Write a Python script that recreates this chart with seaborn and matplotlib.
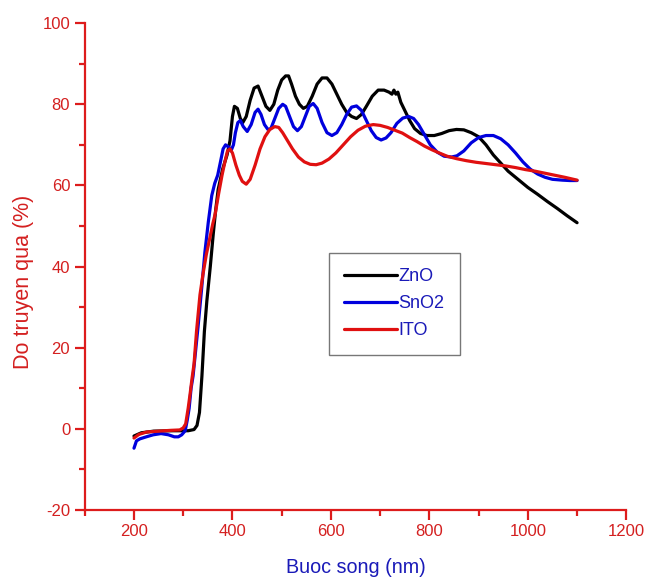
import numpy as np
import pandas as pd
import matplotlib
matplotlib.use("Agg")
import matplotlib.pyplot as plt
import seaborn as sns
from matplotlib.ticker import MultipleLocator
from matplotlib.lines import Line2D

# ---- data ----
zno_x = [200, 215, 240, 280, 310, 322, 328, 333, 338, 343, 348, 355, 361, 366, 371, 380, 389, 395, 400, 404,
         410, 416, 421, 428, 436, 444, 452, 460, 468, 476, 484, 492, 500, 508, 514, 520, 528, 536, 544, 552,
         562, 572, 582, 592, 602, 612, 622, 632, 642, 652, 662, 672, 684, 696, 708, 718, 724, 728, 732, 736,
         742, 750, 760, 770, 782, 795, 810, 825, 840, 855, 870, 885, 900, 915, 930, 945, 960, 980, 1000, 1020,
         1040, 1060, 1080, 1100]
zno_y = [-1.8, -1.0, -0.6, -0.5, -0.5, -0.2, 0.8, 4, 13, 24, 31.5, 40, 48, 54, 59, 64, 67.5, 71, 77, 79.5,
         79, 76.5, 75.5, 77, 81, 84, 84.5, 82, 79.5, 78.5, 80, 83.5, 86, 87, 87, 85, 82, 80, 79, 79.5,
         82, 85, 86.5, 86.5, 85, 82.5, 80, 78, 77, 76.5, 77.5, 79.5, 82, 83.5, 83.5, 83, 82.5, 83.5, 82.5, 83,
         80.5, 78.5, 76, 74, 72.8, 72.3, 72.3, 72.8, 73.5, 73.8, 73.7, 73, 72, 70, 67.5, 65.5, 63.5, 61.5, 59.5, 57.8,
         56, 54.3, 52.5, 50.8]

sno2_x = [200, 205, 212, 225, 239, 255, 270, 282, 290, 297, 304, 308, 312, 316, 320, 325, 330, 337, 344, 351,
          358, 364, 370, 376, 381, 386, 392, 397, 402, 406, 411, 416, 422, 430, 438, 446, 452, 458, 465, 472,
          478, 486, 494, 502, 508, 516, 524, 532, 540, 548, 556, 564, 572, 582, 592, 602, 612, 622, 632, 642,
          652, 662, 672, 682, 692, 702, 712, 722, 734, 746, 758, 768, 778, 790, 802, 816, 830, 845, 856, 870,
          885, 900, 915, 930, 945, 960, 975, 990, 1005, 1020, 1035, 1050, 1070, 1085, 1100]
sno2_y = [-4.8, -3, -2.5, -2, -1.5, -1.2, -1.5, -2.0, -2.0, -1.5, -0.5, 2, 5, 10, 13, 19, 25, 34, 43.5, 51,
          57.5, 60.5, 62.5, 66, 69, 70, 69.5, 68.5, 70, 73, 75.5, 76, 74.5, 73.3, 75, 78, 78.8, 77.5, 75, 73.8,
          74, 76.5, 79, 80, 79.5, 77, 74.5, 73.5, 74.5, 77, 79.5, 80.2, 79, 75.5, 73, 72.3, 73, 75, 77.5, 79.3,
          79.6, 78.5, 76, 73.5, 71.8, 71.2, 71.7, 73, 75.3, 76.6, 77, 76.5, 75, 72.5, 70, 68.2, 67.2, 67, 67.3, 68.5,
          70.5, 71.8, 72.3, 72.3, 71.5, 70, 68, 65.8, 64, 62.8, 62, 61.5, 61.3, 61.2, 61.2]

ito_x = [200, 210, 226, 250, 275, 293, 300, 305, 310, 314, 318, 322, 327, 334, 340, 347, 354, 360, 365, 372,
         379, 385, 390, 395, 400, 407, 414, 420, 428, 436, 446, 456, 466, 476, 486, 494, 502, 512, 522, 534,
         546, 558, 570, 582, 596, 610, 625, 640, 655, 670, 686, 700, 715, 730, 745, 760, 775, 790, 805, 820,
         836, 855, 875, 895, 915, 935, 955, 975, 995, 1015, 1035, 1055, 1075, 1100]
ito_y = [-2.3, -1.4, -0.8, -0.6, -0.4, -0.3, 0.2, 1.2, 5, 8.6, 12.5, 16, 24, 33, 38, 43, 47, 50.5, 53, 58,
         62.6, 66, 68.5, 69, 68, 65, 62.5, 61, 60.3, 61.5, 65, 69, 72, 73.8, 74.5, 74.3, 73, 71, 69, 67,
         65.8, 65.2, 65.1, 65.5, 66.5, 68, 70, 72, 73.6, 74.6, 75, 74.8, 74.3, 73.6, 72.9, 71.8, 70.8, 69.7, 68.8, 68,
         67.2, 66.6, 66.1, 65.7, 65.4, 65.1, 64.8, 64.4, 63.9, 63.5, 63.0, 62.5, 62.0, 61.3]

series_names = ["ZnO", "SnO2", "ITO"]
series_colors = ["#000000", "#0000dd", "#e01010"]
x_ticks = [200, 400, 600, 800, 1000, 1200]
y_ticks = [-20, 0, 20, 40, 60, 80, 100]
x_label = "Buoc song (nm)"
y_label = "Do truyen qua (%)"

frames = []
for name, xs, ys in zip(series_names, [zno_x, sno2_x, ito_x], [zno_y, sno2_y, ito_y]):
    frames.append(pd.DataFrame({"x": xs, "y": ys, "s": name}))
df = pd.concat(frames, ignore_index=True)

sns.set_style("ticks")
plt.rcParams["font.family"] = ["Liberation Sans", "DejaVu Sans"]
plt.rcParams["axes.unicode_minus"] = False

axis_red = "#dd1c1c"
label_red = "#d42020"
blue_txt = "#1a1ab8"

fig = plt.figure(figsize=(6.47, 5.8), dpi=100)
ax = fig.add_axes([0.131, 0.121, 0.837, 0.839])

sns.lineplot(data=df, x="x", y="y", hue="s", hue_order=series_names,
             palette=dict(zip(series_names, series_colors)), sort=False,
             linewidth=2.3, ax=ax, legend=False)

ax.set_xlim(100, 1200)
ax.set_ylim(-20, 100)
ax.set_xticks(x_ticks)
ax.set_yticks(y_ticks)
ax.xaxis.set_minor_locator(MultipleLocator(100))
ax.yaxis.set_minor_locator(MultipleLocator(10))

for s in ["top", "right"]:
    ax.spines[s].set_visible(False)
for s in ["left", "bottom"]:
    ax.spines[s].set_color(axis_red)
    ax.spines[s].set_linewidth(1.6)

ax.tick_params(axis="both", which="major", direction="out", length=7, width=1.6,
               color=axis_red, labelcolor=label_red, labelsize=12, pad=3.5)
ax.tick_params(axis="both", which="minor", direction="out", length=4, width=1.6, color=axis_red)

ax.set_xlabel(x_label, color=blue_txt, fontsize=14.2)
ax.set_ylabel(y_label, color=label_red, fontsize=15.5)
ax.xaxis.set_label_coords(0.5, -0.119)
ax.yaxis.set_label_coords(-0.113, 0.468)
ax.xaxis.label.set_va("center")
ax.yaxis.label.set_va("center")

handles = [Line2D([], [], color=c, linewidth=2.3) for c in series_colors]
leg = ax.legend(handles, series_names, loc="upper left", bbox_to_anchor=(0.451, 0.528),
                fontsize=13, handlelength=2.9, handletextpad=0.1, labelspacing=0.56,
                borderpad=0.85, borderaxespad=0, fancybox=False, frameon=True)
leg.get_frame().set_edgecolor("#555555")
leg.get_frame().set_linewidth(1.0)
for t in leg.get_texts():
    t.set_color(blue_txt)

fig.savefig("out.png", dpi=100, facecolor="white")
